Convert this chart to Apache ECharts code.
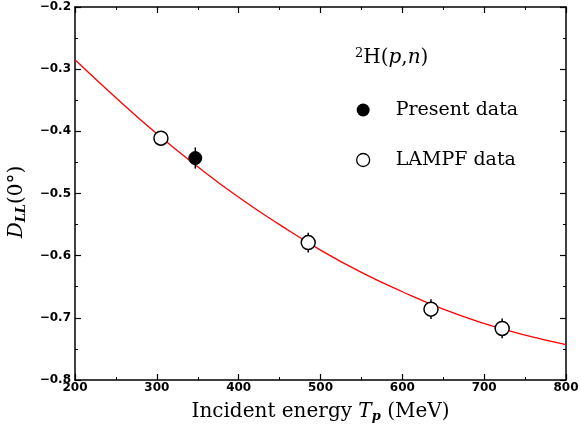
<!DOCTYPE html>
<html>
<head>
<meta charset="utf-8">
<script src="https://cdn.jsdelivr.net/npm/echarts@6/dist/echarts.min.js"></script>
<style>
  html, body { margin: 0; padding: 0; background: #fff; }
  #chart { width: 581px; height: 435px; }
</style>
</head>
<body>
<div id="chart"></div>
<script>
// curve (fit)
const curveX = [200, 250, 300, 350, 400, 450, 500, 550, 600, 650, 700, 750, 800]
const curveY = [-0.285, -0.346, -0.404, -0.457, -0.506, -0.550, -0.591, -0.627, -0.658, -0.686, -0.709, -0.728, -0.743]

// present data (filled)
const presentX = [347]
const presentY = [-0.443]
const presentErr = [0.017]

// LAMPF data (open)
const lampfX = [305, 485, 635, 722]
const lampfY = [-0.411, -0.579, -0.686, -0.717]
const lampfErr = [0.008, 0.016, 0.016, 0.016]

const serif = '"DejaVu Serif", "Liberation Serif", serif'
const sans = '"DejaVu Sans", "Liberation Sans", Arial, sans-serif'

const fmtMinus = v => String(Number(v.toFixed(1))).replace('-', '\u2212')

const errBars = (xs, ys, es) => xs.map((x, i) => [x, ys[i] - es[i], ys[i] + es[i]])

const errRender = (params, api) => {
  const lo = api.coord([api.value(0), api.value(1)])
  const hi = api.coord([api.value(0), api.value(2)])
  return {
    type: 'line',
    shape: { x1: lo[0], y1: lo[1], x2: hi[0], y2: hi[1] },
    style: { stroke: '#000', lineWidth: 1.5 }
  }
}

const baseX = {
  type: 'value', min: 200, max: 800, interval: 100,
  axisLine: { show: true, onZero: false, lineStyle: { color: '#000', width: 1.5 } },
  axisTick: { show: true, inside: true, length: 6, lineStyle: { color: '#000', width: 1.2 } },
  minorTick: { show: true, splitNumber: 2, length: 3, lineStyle: { color: '#000', width: 1 } },
  splitLine: { show: false }
}
const baseY = {
  type: 'value', min: -0.8, max: -0.2, interval: 0.1,
  axisLine: { show: true, onZero: false, lineStyle: { color: '#000', width: 1.5 } },
  axisTick: { show: true, inside: true, length: 6, lineStyle: { color: '#000', width: 1.2 } },
  minorTick: { show: true, splitNumber: 2, length: 3, lineStyle: { color: '#000', width: 1 } },
  splitLine: { show: false }
}

const titleRich = {
  t: { fontFamily: serif, fontSize: 20, color: '#000' },
  i: { fontFamily: serif, fontStyle: 'italic', fontSize: 20, color: '#000' },
  s: { fontFamily: serif, fontStyle: 'italic', fontWeight: 'bold', fontSize: 13, color: '#000', padding: [9, 0, 0, 0] }
}

const chart = echarts.init(document.getElementById('chart'))
chart.setOption({
  animation: false,
  backgroundColor: '#fff',
  grid: { left: 75, right: 15, top: 7, bottom: 55, outerBoundsMode: 'none' },
  xAxis: [
    Object.assign({}, baseX, {
      position: 'bottom',
      axisLabel: { margin: 2, color: '#000', fontFamily: sans, fontWeight: 'bold', fontSize: 12 },
      name: '{t|Incident energy }{i|T}{s|p}{t| (MeV)}',
      nameLocation: 'middle',
      nameGap: 21,
      nameTextStyle: { rich: titleRich }
    }),
    Object.assign({}, baseX, { position: 'top', axisLabel: { show: false } })
  ],
  yAxis: [
    Object.assign({}, baseY, {
      position: 'left',
      axisLabel: {
        margin: 4, color: '#000', fontFamily: sans, fontWeight: 'bold', fontSize: 12,
        formatter: fmtMinus
      },
      name: '{i|D}{s|LL}{t|(0°)}',
      nameLocation: 'middle',
      nameGap: 47,
      nameRotate: 90,
      nameTextStyle: { rich: titleRich, padding: [0, 17, 0, 0] }
    }),
    Object.assign({}, baseY, { position: 'right', axisLabel: { show: false } })
  ],
  graphic: [
    {
      type: 'text', left: 355, top: 47,
      style: {
        text: '{s|2}{t|H(}{i|p}{t|,}{i|n}{t|)}',
        rich: {
          s: { fontFamily: serif, fontSize: 13, fill: '#000', padding: [0, 0, 8, 0] },
          t: { fontFamily: serif, fontSize: 20, fill: '#000' },
          i: { fontFamily: serif, fontStyle: 'italic', fontSize: 20, fill: '#000' }
        }
      }
    }
  ],
  legend: {
    orient: 'vertical',
    left: 356, top: 100,
    padding: 0,
    itemGap: 30,
    itemWidth: 13, itemHeight: 13,
    textStyle: { fontFamily: serif, fontSize: 19, lineHeight: 20, color: '#000', padding: [0, 0, 0, 21] },
    data: [
      { name: 'Present data', itemStyle: { color: '#000', borderWidth: 0 } },
      { name: 'LAMPF data', itemStyle: { color: '#fff', borderColor: '#000', borderWidth: 1.3 } }
    ]
  },
  series: [
    {
      name: 'fit', type: 'line', smooth: true, showSymbol: false,
      data: curveX.map((x, i) => [x, curveY[i]]),
      lineStyle: { color: '#ff0000', width: 1.3 },
      z: 1
    },
    {
      type: 'custom', renderItem: errRender,
      data: errBars(presentX, presentY, presentErr), z: 2
    },
    {
      type: 'custom', renderItem: errRender,
      data: errBars(lampfX, lampfY, lampfErr), z: 2
    },
    {
      name: 'Present data', type: 'scatter', symbol: 'circle', symbolSize: 13,
      data: presentX.map((x, i) => [x, presentY[i]]),
      itemStyle: { color: '#000', borderColor: '#000', borderWidth: 1, opacity: 1 },
      z: 3
    },
    {
      name: 'LAMPF data', type: 'scatter', symbol: 'circle', symbolSize: 14,
      data: lampfX.map((x, i) => [x, lampfY[i]]),
      itemStyle: { color: '#fff', borderColor: '#000', borderWidth: 1.5, opacity: 1 },
      z: 3
    }
  ]
})
</script>
</body>
</html>
